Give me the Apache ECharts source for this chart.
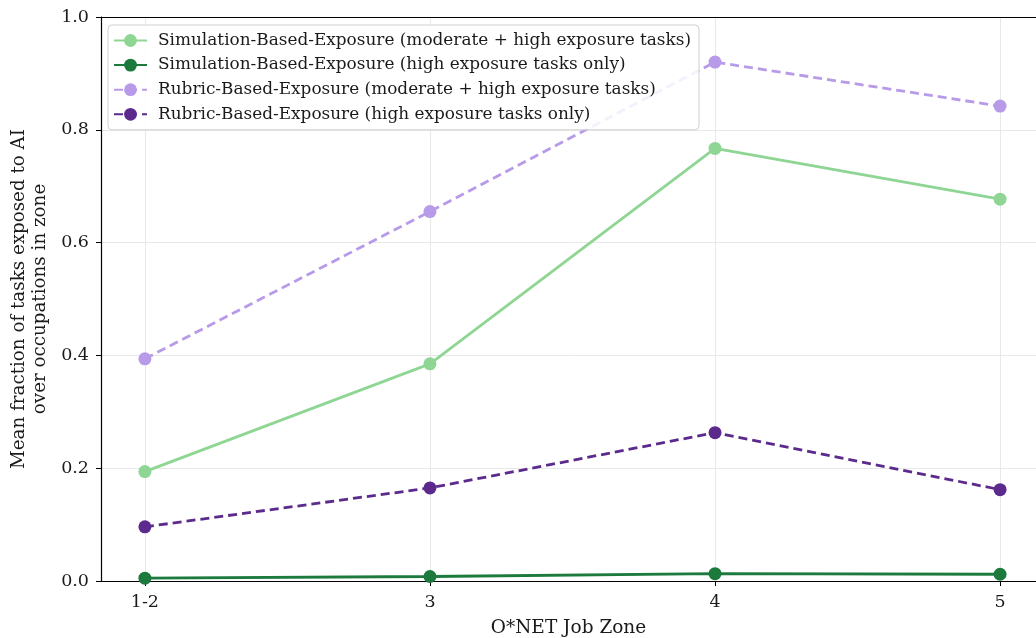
<!DOCTYPE html>
<html>
<head>
<meta charset="utf-8">
<style>
  html, body { margin: 0; padding: 0; background: #fff; }
  #chart { width: 1036px; height: 638px; }
</style>
<script src="https://cdn.jsdelivr.net/npm/echarts@6/dist/echarts.min.js"></script>
</head>
<body>
<div id="chart"></div>
<script>
// O*NET job zones on the x axis
const zones = ['1-2', '3', '4', '5'];
const yTicks = [0, 0.2, 0.4, 0.6, 0.8, 1.0];

// Mean fraction of tasks exposed to AI, per job zone
const simModerateHigh = [0.194, 0.385, 0.767, 0.677];
const simHighOnly = [0.005, 0.008, 0.013, 0.012];
const rubricModerateHigh = [0.394, 0.655, 0.920, 0.842];
const rubricHighOnly = [0.096, 0.165, 0.263, 0.162];

const seriesNames = [
  'Simulation-Based-Exposure (moderate + high exposure tasks)',
  'Simulation-Based-Exposure (high exposure tasks only)',
  'Rubric-Based-Exposure (moderate + high exposure tasks)',
  'Rubric-Based-Exposure (high exposure tasks only)'
];

const FONT = 'DejaVu Serif';
const zoneIdx = zones.map((_, i) => i);
const toPoints = vals => vals.map((v, i) => [i, v]);

// x range leaves a margin before the first zone; the right side runs past the canvas edge
const X_MIN = -0.154;
const X_MAX = 3.126;

function lineSeries(name, vals, color, dashed) {
  return {
    name: name,
    type: 'line',
    xAxisIndex: 0,
    data: toPoints(vals),
    symbol: 'circle',
    symbolSize: 13,
    showSymbol: true,
    itemStyle: { color: color },
    lineStyle: { color: color, width: 2.8, type: dashed ? [9, 5] : 'solid' },
    emphasis: { disabled: true },
    animation: false
  };
}

const chart = echarts.init(document.getElementById('chart'), null, { renderer: 'canvas' });
chart.setOption({
  backgroundColor: '#ffffff',
  animation: false,
  grid: { left: 101, right: 0, top: 17, bottom: 57, outerBoundsMode: 'none', containLabel: false },
  legend: {
    left: 108, top: 25,
    orient: 'vertical',
    itemGap: 7.6,
    itemWidth: 33, itemHeight: 16,
    padding: [7, 8, 7, 5],
    borderColor: '#d0d0d0', borderWidth: 1, borderRadius: 4,
    backgroundColor: 'rgba(255,255,255,0.85)',
    textStyle: { fontFamily: FONT, fontSize: 16.9, color: '#1a1a1a', padding: [0, 0, 0, 6] },
    data: seriesNames
  },
  xAxis: [{
    type: 'value',
    min: X_MIN, max: X_MAX,
    name: 'O*NET Job Zone',
    nameLocation: 'middle', nameGap: 38,
    nameTextStyle: { fontFamily: FONT, fontSize: 18.5, color: '#1a1a1a' },
    axisLine: { show: true, onZero: false, lineStyle: { color: '#000', width: 1.2 } },
    axisTick: { show: true, customValues: zoneIdx, length: 5, lineStyle: { color: '#000', width: 1 } },
    axisLabel: {
      customValues: zoneIdx, margin: 12,
      fontFamily: FONT, fontSize: 17.5, color: '#1a1a1a',
      formatter: v => zones[Math.round(v)]
    },
    splitLine: { show: true, lineStyle: { color: '#e8e8e8', width: 1 } }
  }, {
    // top spine
    type: 'value', position: 'top',
    min: X_MIN, max: X_MAX,
    axisLine: { show: true, onZero: false, lineStyle: { color: '#000', width: 1.2 } },
    axisTick: { show: false }, axisLabel: { show: false }, splitLine: { show: false }
  }],
  yAxis: {
    type: 'value',
    min: 0, max: 1.0, interval: 0.2,
    name: 'Mean fraction of tasks exposed to AI\nover occupations in zone',
    nameLocation: 'middle', nameGap: 44,
    nameTextStyle: { fontFamily: FONT, fontSize: 18.3, color: '#1a1a1a', lineHeight: 21 },
    axisLine: { show: true, onZero: false, lineStyle: { color: '#000', width: 1.2 } },
    axisTick: { show: true, length: 5, lineStyle: { color: '#000', width: 1 } },
    axisLabel: {
      margin: 12, fontFamily: FONT, fontSize: 17.5, color: '#1a1a1a',
      formatter: v => yTicks.includes(Math.round(v * 10) / 10) ? v.toFixed(1) : ''
    },
    splitLine: { show: true, lineStyle: { color: '#e8e8e8', width: 1 } }
  },
  series: [
    lineSeries(seriesNames[0], simModerateHigh, '#8fd694', false),
    lineSeries(seriesNames[1], simHighOnly, '#1b7a3c', false),
    lineSeries(seriesNames[2], rubricModerateHigh, '#b89be8', true),
    lineSeries(seriesNames[3], rubricHighOnly, '#5b2a8c', true)
  ]
});
</script>
</body>
</html>
